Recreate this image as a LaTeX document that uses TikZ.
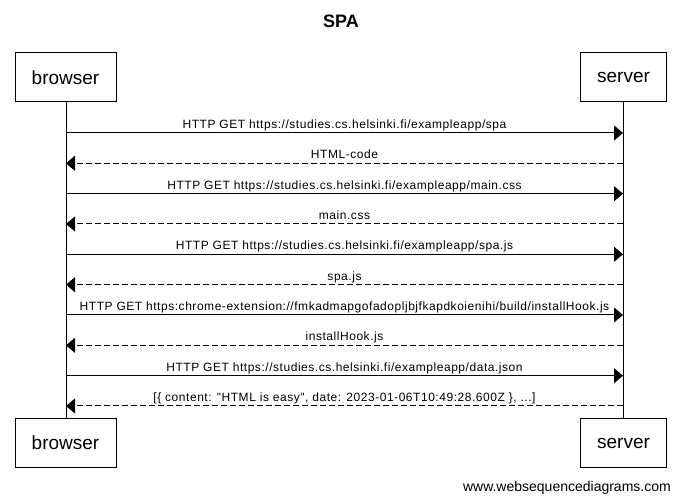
\documentclass[tikz,border=0pt]{standalone}
\usepackage{fontspec}
\setmainfont{Liberation Sans}
\newfontfamily\msgfont[LetterSpace=4.5]{Liberation Sans}
\usetikzlibrary{arrows.meta}
\begin{document}
\begin{tikzpicture}[x=1pt,y=-1pt,
  actor/.style={draw=black,line width=1pt,fill=white,minimum width=#1,minimum height=49pt,inner sep=0pt,font=\fontsize{19}{22}\selectfont},
  life/.style={line width=1pt},
  msg/.style={line width=1pt,-{Triangle[length=9pt,width=15pt]}},
  reply/.style={msg,dash pattern=on 6pt off 3pt},
  lbl/.style={anchor=base,inner sep=0pt,font=\msgfont\fontsize{12}{14}\selectfont}]
\useasboundingbox[fill=white] (0,0) rectangle (681,502);
\node[font=\bfseries\fontsize{18}{21}\selectfont,anchor=base] (title) at (341,28) {SPA};
\node[actor=101pt] (b1) at (65.5,77.5) {browser};
\node[actor=86pt] (s1) at (623.5,77.5) {server};
\node[actor=101pt] (b2) at (65.5,443) {browser};
\node[actor=86pt] (s2) at (623.5,443) {server};
\coordinate (bt) at (66,102); \coordinate (bb) at (66,419);
\coordinate (st) at (623,102); \coordinate (sb) at (623,419);
\draw[life] (bt) -- (bb);
\draw[life] (st) -- (sb);
% message coordinates
\foreach \i/\y in {1/133,2/163.3,3/193.7,4/224,5/254.3,6/284.7,7/315,8/345.3,9/375.7,10/406}{
  \coordinate (b\i) at (66,\y);
  \coordinate (s\i) at (623,\y);
  \coordinate (c\i) at (344.5,\y-4.5);
}
\draw[msg] (b1) -- (s1);
\node[lbl] (m1) at (c1) {HTTP GET https://studies.cs.helsinki.fi/exampleapp/spa};
\draw[reply] (s2) -- (b2);
\node[lbl] (m2) at (c2) {HTML-code};
\draw[msg] (b3) -- (s3);
\node[lbl] (m3) at (c3) {HTTP GET https://studies.cs.helsinki.fi/exampleapp/main.css};
\draw[reply] (s4) -- (b4);
\node[lbl] (m4) at (c4) {main.css};
\draw[msg] (b5) -- (s5);
\node[lbl] (m5) at (c5) {HTTP GET https://studies.cs.helsinki.fi/exampleapp/spa.js};
\draw[reply] (s6) -- (b6);
\node[lbl] (m6) at (c6) {spa.js};
\draw[msg] (b7) -- (s7);
\node[lbl] (m7) at (c7) {HTTP GET https:chrome-extension://fmkadmapgofadopljbjfkapdkoienihi/build/installHook.js};
\draw[reply] (s8) -- (b8);
\node[lbl] (m8) at (c8) {installHook.js};
\draw[msg] (b9) -- (s9);
\node[lbl] (m9) at (c9) {HTTP GET https://studies.cs.helsinki.fi/exampleapp/data.json};
\draw[reply] (s10) -- (b10);
\node[lbl] (m10) at (c10) {[\{ content: "HTML is easy", date: 2023-01-06T10:49:28.600Z \}, ...]};
\node[anchor=base east,inner sep=0pt,font=\fontsize{14}{16}\selectfont] (footer) at (671,492) {www.websequencediagrams.com};
\end{tikzpicture}
\end{document}
